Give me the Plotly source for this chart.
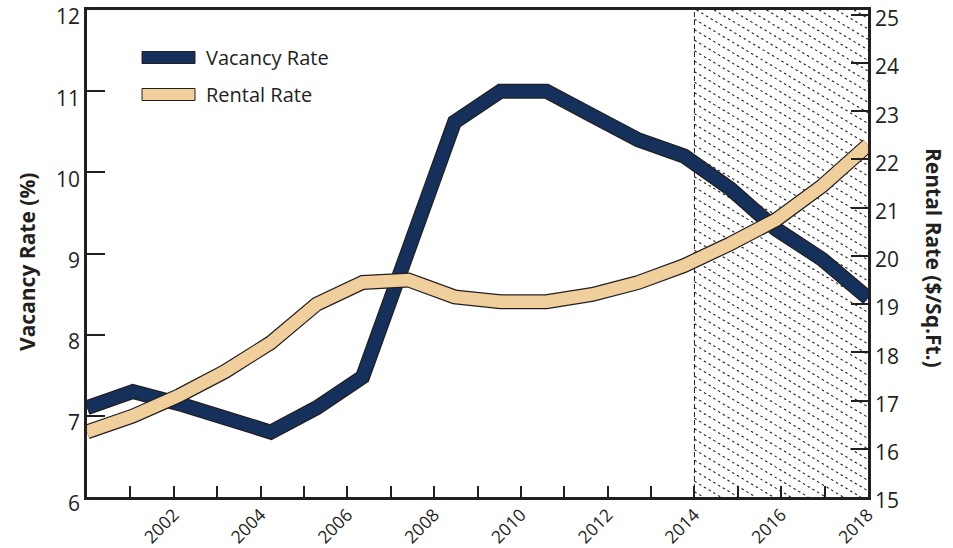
import plotly.graph_objects as go

# ---- data ----
years = list(range(2001, 2019))
vacancy_rate = [7.1, 7.3, 7.15, 6.97, 6.8, 7.1, 7.48, 9.05, 10.62, 11.0,
                11.0, 10.7, 10.4, 10.2, 9.8, 9.3, 8.93, 8.45]
rental_rate = [16.35, 16.68, 17.1, 17.6, 18.2, 19.0, 19.45, 19.5, 19.15, 19.05,
               19.05, 19.2, 19.45, 19.8, 20.25, 20.75, 21.45, 22.3]

axis_years = list(range(2000, 2019))
year_labels = [str(y) if (y % 2 == 0 and y >= 2002) else "" for y in axis_years]
vacancy_ticks = [6, 7, 8, 9, 10, 11, 12]
rental_ticks = list(range(15, 26))
forecast_start = 2014

# ---- styling ----
NAVY = "#15305a"
TAN = "#f0cf9c"
INK = "#231f20"
FONT = "Open Sans"

FIG_W, FIG_H = 953, 548
M_L, M_R, M_T, M_B = 87, 85, 10, 51
PW, PH = FIG_W - M_L - M_R, FIG_H - M_T - M_B

fig = go.Figure()

# thick lines with a thin dark outline: dark wide stroke under the coloured one
for name, vals, col, yax in [("Vacancy Rate", vacancy_rate, NAVY, "y"),
                             ("Rental Rate", rental_rate, TAN, "y2")]:
    fig.add_trace(go.Scatter(x=years, y=vals, xaxis="x3", yaxis=yax, mode="lines",
                             line=dict(color=INK, width=15), hoverinfo="skip",
                             showlegend=False))
    fig.add_trace(go.Scatter(x=years, y=vals, xaxis="x3", yaxis=yax, mode="lines",
                             name=name, line=dict(color=col, width=12.5),
                             showlegend=False))

shapes = []

# hatched forecast band (dotted diagonal lines)
x_min, x_max = axis_years[0], axis_years[-1]
xl = (forecast_start - x_min) / (x_max - x_min) * PW
slope = 0.6
step = 10.5
c = step / 2
while c < PH + slope * (PW - xl):
    xs, ys = xl, c
    if ys > PH:
        xs, ys = xl + (c - PH) / slope, PH
    xe, ye = PW, c - slope * (PW - xl)
    if ye < 0:
        xe, ye = xl + c / slope, 0
    if xe > xs:
        shapes.append(dict(type="line", xref="paper", yref="paper",
                           x0=xs / PW, y0=ys / PH, x1=xe / PW, y1=ye / PH,
                           line=dict(color=INK, width=1.1, dash="2.5px,3px"),
                           layer="below"))
    c += step

# forecast boundary
shapes.append(dict(type="line", xref="x", yref="paper", x0=forecast_start, x1=forecast_start,
                   y0=0, y1=1, line=dict(color=INK, width=1, dash="5px,3px"), layer="below"))

# legend swatches
legend_items = [("Vacancy Rate", NAVY), ("Rental Rate", TAN)]
annotations = []
for i, (label, col) in enumerate(legend_items):
    top = 51.5 + i * 37
    y1 = 1 - (top - M_T) / PH
    y0 = 1 - (top + 12 - M_T) / PH
    shapes.append(dict(type="rect", xref="paper", yref="paper",
                       x0=(142 - M_L) / PW, x1=(195 - M_L) / PW, y0=y0, y1=y1,
                       fillcolor=col, line=dict(color=INK, width=1)))
    annotations.append(dict(xref="paper", yref="paper", x=(204 - M_L) / PW, y=(y0 + y1) / 2,
                            text=label, showarrow=False, xanchor="left", yanchor="middle",
                            font=dict(family=FONT, size=20, color=INK)))

# axis titles
annotations.append(dict(xref="paper", yref="paper", x=(27 - M_L) / PW, y=1 - (262 - M_T) / PH,
                        text="<b>Vacancy Rate (%)</b>", textangle=-90, showarrow=False,
                        xanchor="center", yanchor="middle",
                        font=dict(family=FONT, size=21, color=INK)))
annotations.append(dict(xref="paper", yref="paper", x=1 + (934 - M_L - PW) / PW,
                        y=1 - (258 - M_T) / PH,
                        text="<b>Rental Rate ($/Sq.Ft.)</b>", textangle=90, showarrow=False,
                        xanchor="center", yanchor="middle",
                        font=dict(family=FONT, size=21, color=INK)))

axis_common = dict(showgrid=False, zeroline=False, showline=True, linecolor=INK,
                   linewidth=2.5, ticks="inside", tickcolor=INK, tickwidth=2,
                   automargin=False, ticklabeloverflow="allow")

fig.update_layout(
    width=FIG_W, height=FIG_H,
    margin=dict(l=M_L, r=M_R, t=M_T, b=M_B, pad=0, autoexpand=False),
    paper_bgcolor="white", plot_bgcolor="white",
    showlegend=False,
    xaxis=dict(range=[x_min, x_max], tickmode="array", tickvals=axis_years,
               ticktext=year_labels, ticklen=11, tickangle=-45, mirror=True,
               ticklabelstandoff=-2,
               tickfont=dict(family=FONT, size=17.5, color=INK),
               **axis_common),
    xaxis3=dict(range=[years[0], years[-1]], overlaying="x", visible=False),
    yaxis=dict(range=[6, 12], tickmode="array", tickvals=vacancy_ticks, ticklen=18,
               ticklabelshift=7, tickfont=dict(family=FONT, size=21, color=INK),
               **axis_common),
    yaxis2=dict(range=[15, 25.1], overlaying="y", side="right", tickmode="array",
                tickvals=rental_ticks, ticklen=17, ticklabelshift=4,
                tickfont=dict(family=FONT, size=21, color=INK),
                **axis_common),
    shapes=shapes,
    annotations=annotations,
)

fig.write_html("out.html")
